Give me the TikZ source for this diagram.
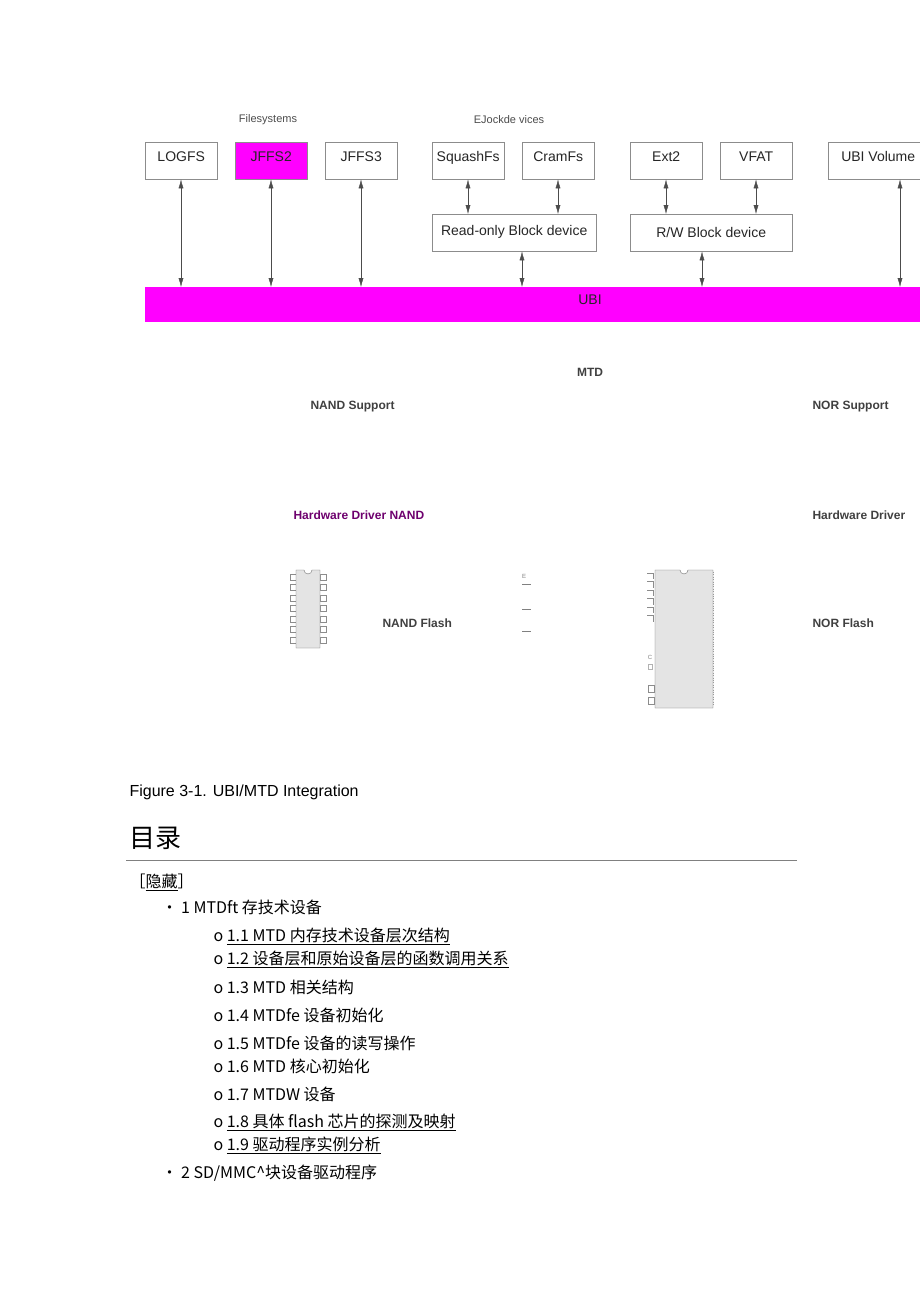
\documentclass[tikz,border=0pt]{standalone}
\usepackage{fontspec}
\setmainfont{Liberation Sans}
\newfontfamily\cjk{Noto Sans CJK SC}
\usepackage{tikz}
\usetikzlibrary{positioning,arrows.meta}
\definecolor{ubimag}{RGB}{255,0,255}
\definecolor{drvpurple}{RGB}{110,0,110}
\definecolor{chipgray}{RGB}{228,228,228}

\begin{document}
\begin{tikzpicture}[x=1pt,y=-1pt]
  \tikzset{fsbox/.style={draw=black!45,minimum width=72pt,minimum height=37pt,anchor=north west,inner sep=0pt,font=\fontsize{14}{14}\selectfont,text=black!85},
    lbl/.style={font=\fontsize{11}{11}\selectfont,text=black!70},
    hdr/.style={font=\bfseries\fontsize{12}{12}\selectfont,text=black!75,anchor=west},
    toc/.style={anchor=west,font=\cjk\fontsize{16}{16}\selectfont},
    link/.style={{Latex[length=9pt,width=5pt]}-{Latex[length=9pt,width=5pt]},black!70}}
  \useasboundingbox[fill=white] (0,0) rectangle (920,1303);
  \node[lbl] (fslbl) at (268,120) {Filesystems};
  \node[lbl] (bdlbl) at (509,120) {EJockde vices};
  % filesystem boxes
  \node[fsbox] (logfs) at (145,142) {\raisebox{8pt}{LOGFS}};
  \node[fsbox,fill=ubimag] (jffs2) at (235,142) {\raisebox{8pt}{JFFS2}};
  \node[fsbox] (jffs3) at (325,142) {\raisebox{8pt}{JFFS3}};
  \node[fsbox] (squash) at (432,142) {\raisebox{8pt}{SquashFs}};
  \node[fsbox] (cram) at (522,142) {\raisebox{8pt}{CramFs}};
  \node[fsbox] (ext2) at (630,142) {\raisebox{8pt}{Ext2}};
  \node[fsbox] (vfat) at (720,142) {\raisebox{8pt}{VFAT}};
  \node[fsbox,minimum width=100pt] (ubivol) at (828,142) {\raisebox{8pt}{UBI Volume}};
  \node[fsbox,minimum width=164pt] (robd) at (432,214) {\raisebox{4pt}{Read-only Block device}};
  \node[fsbox,minimum width=162pt] (rwbd) at (630,214) {R/W Block device};
  \fill[ubimag] (145,287) rectangle (920,322);
  \node[font=\fontsize{14}{14}\selectfont,text=black!85] (ubi) at (590,300) {UBI};
  \coordinate (ubitop) at (0,287);
  % connectors
  \foreach \n/\x in {logfs/181,jffs2/271,jffs3/361,ubivol/900}
    \draw[link] (\n.south -| \x,0) -- (ubitop -| \x,0);
  \foreach \n/\x in {squash/468,cram/558}
    \draw[link] (\n.south -| \x,0) -- (robd.north -| \x,0);
  \foreach \n/\x in {ext2/666,vfat/756}
    \draw[link] (\n.south -| \x,0) -- (rwbd.north -| \x,0);
  \draw[link] (robd.south -| 522,0) -- (ubitop -| 522,0);
  \draw[link] (rwbd.south -| 702,0) -- (ubitop -| 702,0);
  % lower labels
  \node[hdr,anchor=center] (mtd) at (590,372) {MTD};
  \node[hdr] (nandsup) at (307,407) {NAND Support};
  \node[hdr] (norsup) at (809,407) {NOR Support};
  \node[hdr,text=drvpurple] (nanddrv) at (290,515) {Hardware Driver NAND};
  \node[hdr] (nordrv) at (809,515) {Hardware Driver};
  \node[hdr] (nandfl) at (379,623) {NAND Flash};
  \node[hdr] (norfl) at (809,623) {NOR Flash};
  % chips
  \foreach \i in {0,...,6} {
    \draw[black!45] (290,574+\i*10.5) rectangle (296,580+\i*10.5);
    \draw[black!45] (320,574+\i*10.5) rectangle (326,580+\i*10.5);}
  \draw[black!55,fill=chipgray] (296,570) -- (304,570) arc[start angle=180,end angle=0,radius=4] -- (320,570) -- (320,648) -- (296,648) -- cycle;
  \draw[black!55,fill=chipgray] (655,570) -- (680,570) arc[start angle=180,end angle=0,radius=4] -- (713,570) -- (713,708) -- (655,708) -- cycle;
  \foreach \i in {0,...,5} \draw[black!45] (647,573+\i*8.5) -- (653,573+\i*8.5) -- (653,579+\i*8.5);
  \draw[black!40,dotted] (713,572) -- (713,706);
  \node[font=\fontsize{6}{6}\selectfont,text=black!50] (nc) at (650,657) {C};
  \draw[black!30] (648,664) rectangle (652,669);
  \draw[black!45] (648,685) rectangle (654,692) (648,697) rectangle (654,704);
  \node[font=\fontsize{6}{6}\selectfont,text=black!50] (ee) at (524,576) {E};
  \foreach \y in {584,609,631} \draw[black!50] (522,\y) -- (531,\y);
  % caption and contents
  \node[anchor=west,font=\fontsize{16}{16}\selectfont] (cap) at (126,792) {Figure 3-1. UBI/MTD Integration};
  \node[anchor=west,font=\cjk\fontsize{26}{26}\selectfont] (mulu) at (126,838) {目录};
  \draw[black!50] (126,860) -- (797,860);
  \node[toc] (hide) at (126,882) {［\underline{隐藏}］};
  \node[toc] (t1) at (158,907) {• 1 MTDft 存技术设备};
  \node[toc] (t11) at (210,936) {o \underline{1.1 MTD 内存技术设备层次结构}};
  \node[toc] (t12) at (210,959) {o \underline{1.2 设备层和原始设备层的函数调用关系}};
  \node[toc] (t13) at (210,987) {o 1.3 MTD 相关结构};
  \node[toc] (t14) at (210,1015) {o 1.4 MTDfe 设备初始化};
  \node[toc] (t15) at (210,1043) {o 1.5 MTDfe 设备的读写操作};
  \node[toc] (t16) at (210,1066) {o 1.6 MTD 核心初始化};
  \node[toc] (t17) at (210,1094) {o 1.7 MTDW 设备};
  \node[toc] (t18) at (210,1122) {o \underline{1.8 具体 flash 芯片的探测及映射}};
  \node[toc] (t19) at (210,1145) {o \underline{1.9 驱动程序实例分析}};
  \node[toc] (t2) at (158,1173) {• 2 SD/MMC\^{}块设备驱动程序};
\end{tikzpicture}
\end{document}
